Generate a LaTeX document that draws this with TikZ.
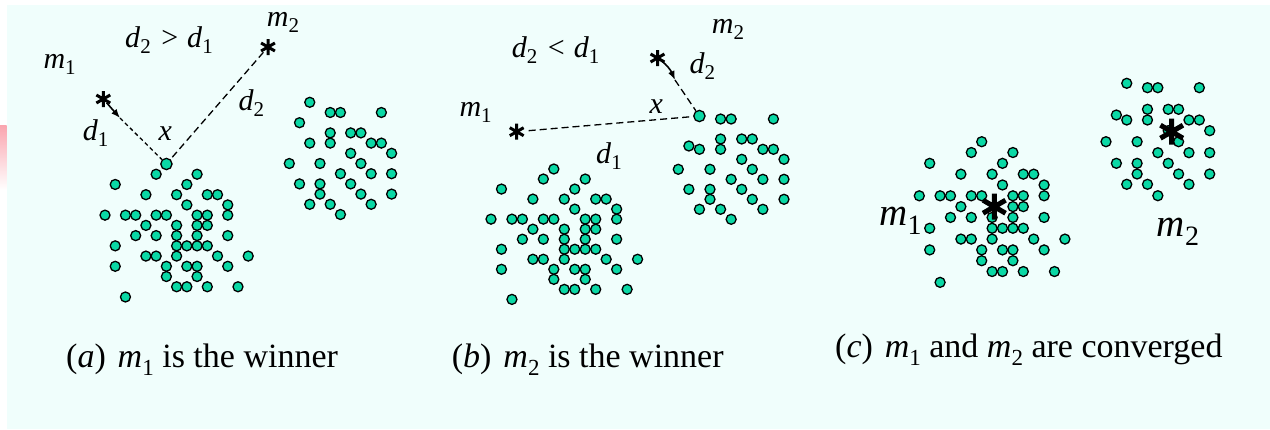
\documentclass[tikz,border=0pt]{standalone}
\usepackage{fontspec}
\setmainfont{Liberation Serif}
\usetikzlibrary{arrows.meta}
\definecolor{bgc}{RGB}{240,254,252}
\definecolor{dotc}{RGB}{10,216,165}
\definecolor{pinkc}{RGB}{250,165,175}
\newcommand\subA[1]{\raisebox{-6pt}{\fontsize{21}{21}\selectfont #1}}
\newcommand\subC[1]{\raisebox{-9pt}{\fontsize{28}{28}\selectfont #1}}
\newcommand\subK[1]{\raisebox{-8pt}{\fontsize{23}{23}\selectfont #1}}
\newcommand\dotcluster[5]{\foreach \j/\is in {#5}{\foreach \i in \is {\filldraw[dotsty] ({#1+\i*#3},{#2+\j*#4}) circle[radius=5pt];}}}
\newcommand\drawstar[3]{\draw[#3, shift={(#1)}] (90:#2)--(270:#2) (30:#2)--(210:#2) (150:#2)--(330:#2);}
\tikzset{
 dotsty/.style={draw=black, fill=dotc, line width=1.3pt},
 xdot/.style={circle, draw=black, fill=dotc, line width=1.3pt, minimum size=11.3pt, inner sep=0pt},
 lbl/.style={anchor=base west, inner sep=0pt, font=\fontsize{30}{30}\selectfont},
 lblc/.style={anchor=base west, inner sep=0pt, font=\fontsize{39}{39}\selectfont},
 captxt/.style={anchor=base west, inner sep=0pt, font=\fontsize{34}{34}\selectfont},
 starl/.style={line width=3pt},
 starb/.style={line width=5pt},
 dsh/.style={dash pattern=on 4pt off 3pt, line width=1.3pt},
 dshl/.style={dash pattern=on 7pt off 4pt, line width=1.3pt},
 arr/.style={-{Latex[length=9pt,width=7pt]}, line width=1.6pt},
}
\begin{document}
\begin{tikzpicture}[x=1pt,y=-1pt]
\useasboundingbox (0,0) rectangle (1270,429);
\fill[white] (0,0) rectangle (1270,429);
\fill[bgc] (7,5) rectangle (1270,429);
\shade[top color=pinkc, bottom color=white] (0,125) rectangle (6.5,190);
% ---------- panel a ----------
\dotcluster{105}{164}{10.23}{10.23}{1/{5,9},2/{1,8},3/{4,7,10,11},4/{8,12},5/{0,2,3,5,6,9,10,12},6/{4,7,9,10},7/{3,5,7,9,12},8/{1,7,8,9,10},9/{4,5,7,11,14},10/{1,6,8,9,12},11/{6,9},12/{7,8,10,13},13/{2}}
\dotcluster{289.3}{102.3}{10.23}{10.2}{0/{2},1/{4,5,9},2/{1},3/{4,6,7},4/{2,4,8,9},5/{6,10},6/{0,3,7},7/{5,8,10},8/{1,3,6},9/{3,7,10},10/{2,4,8},11/{5}}
\node[xdot] (xa) at (166.4,164) {};
\coordinate (sa1) at (103.3,99);
\coordinate (sa2) at (268,47);
\coordinate (ta) at (120,118);
\draw[arr, shorten <=5pt] (sa1) -- (ta);
\draw[dsh] (ta) -- (xa);
\draw[dshl, shorten <=7pt] (sa2) -- (xa);
\drawstar{sa1}{8}{starl}
\drawstar{sa2}{8}{starl}
\node[lbl] (am1) at (43.3,68.3) {\textit{m}\subA{1}};
\node[lbl] (acmp) at (125,47.5) {\textit{d}\subA{2}\hspace{0.35em}>\hspace{0.3em}\textit{d}\subA{1}};
\node[lbl] (am2) at (266.7,26.7) {\textit{m}\subA{2}};
\node[lbl] (ad1) at (82.7,140) {\textit{d}\subA{1}};
\node[lbl] (ax) at (158.3,140) {\textit{x}};
\node[lbl] (ad2) at (238.3,110) {\textit{d}\subA{2}};
% ---------- panel b ----------
\dotcluster{491}{169}{10.47}{10.03}{0/{6},1/{5,9},2/{1,8},3/{4,7,10,11},4/{8,12},5/{0,2,3,5,6,9,10,12},6/{4,7,9,10},7/{3,5,7,9,12},8/{1,7,8,9,10},9/{4,5,7,11,14},10/{1,6,8,9,12},11/{6,9},12/{7,8,10,13},13/{2}}
\dotcluster{678.3}{0}{10.57}{1}{119/{4,5,9},146/{1},139/{4,6,7},149.3/{2,4,8,9},159.3/{6,10},169.3/{0,3,7},179.3/{5,8,10},189.3/{1,3,6},199.3/{3,7,10},209.3/{2,4,8},219.3/{5}}
\node[xdot] (xb) at (699.4,116) {};
\coordinate (sb1) at (516.7,131.7);
\coordinate (sb2) at (657.5,58);
\coordinate (tb) at (675,80);
\draw[arr, shorten <=6pt] (sb2) to[bend left=15] (tb);
\draw[dshl] (tb) -- (xb);
\draw[dshl, shorten <=12pt] (sb1) -- (xb);
\drawstar{sb1}{8}{starl}
\drawstar{sb2}{8}{starl}
\node[lbl] (bcmp) at (511.7,57) {\textit{d}\subA{2}\hspace{0.35em}<\hspace{0.3em}\textit{d}\subA{1}};
\node[lbl] (bm2) at (711.7,33.3) {\textit{m}\subA{2}};
\node[lbl] (bd2) at (689.3,73.3) {\textit{d}\subA{2}};
\node[lbl] (bm1) at (459.3,116.7) {\textit{m}\subA{1}};
\node[lbl] (bx) at (649.3,113.3) {\textit{x}};
\node[lbl] (bd1) at (596,163.3) {\textit{d}\subA{1}};
% ---------- panel c ----------
\dotcluster{919.3}{141.7}{10.4}{10.82}{0/{6},1/{5,9},2/{1,8},3/{4,7,10,11},4/{8,12},5/{0,2,3,5,6,9,10,12},6/{4,9,10},7/{3,5,7,9,12},8/{1,7,8,9,10},9/{4,5,7,11,14},10/{1,6,8,9,12},11/{6,9},12/{7,8,10,13},13/{2}}
\dotcluster{1106}{0}{10.37}{1}{83.3/{2},87.7/{4,5,9},115/{1},109.3/{4,6,7},120/{2,4,8,9},130.7/{6,10},141.7/{0,3,7},152.7/{5,8,10},163.3/{1,3,6},174/{3,7,10},184.3/{2,4,8},195.7/{5}}
\coordinate (sc1) at (994.3,206.7);
\coordinate (sc2) at (1171.7,131.7);
\drawstar{sc1}{13}{starb}
\drawstar{sc2}{13}{starb}
\node[lblc] (cm1) at (879.3,225) {\textit{m}\subC{1}};
\node[lblc] (cm2) at (1156.7,236.7) {\textit{m}\subC{2}};
% ---------- captions ----------
\node[captxt] (capa) at (66,367.3) {(\textit{a})\hspace{0.35em}\textit{m}\subK{1} is the winner};
\node[captxt] (capb) at (451.7,367.3) {(\textit{b})\hspace{0.35em}\textit{m}\subK{2} is the winner};
\node[captxt] (capc) at (835,357.3) {(\textit{c})\hspace{0.35em}\textit{m}\subK{1} and \textit{m}\subK{2} are converged};
\end{tikzpicture}
\end{document}
